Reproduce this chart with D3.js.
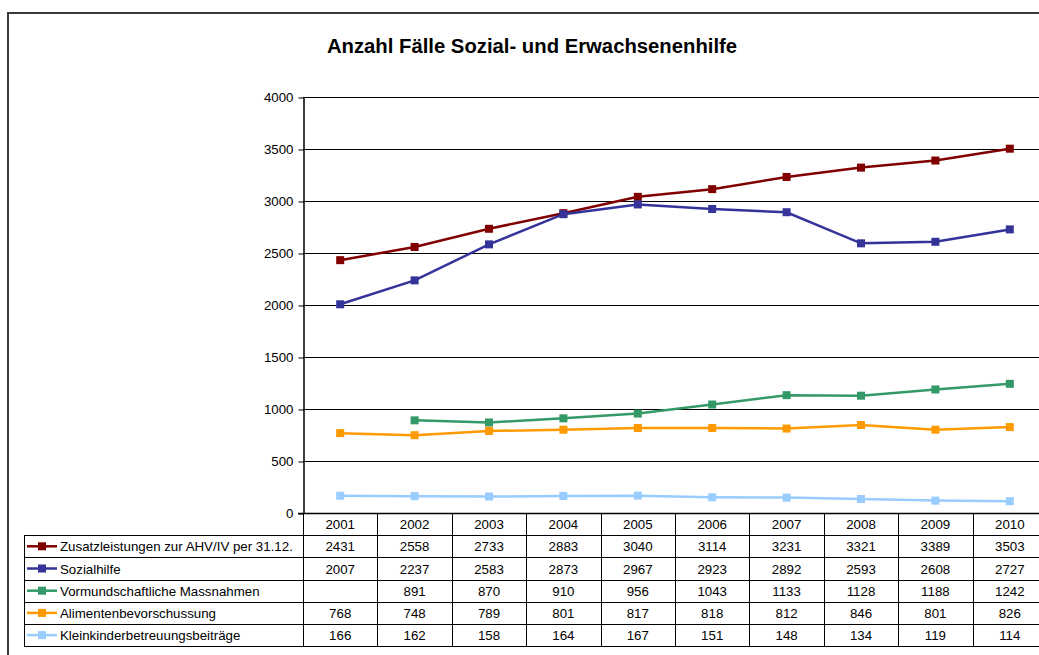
<!DOCTYPE html>
<html><head><meta charset="utf-8">
<script src="https://cdn.jsdelivr.net/npm/d3@7"></script>
<style>body{margin:0;background:#fff;}svg{display:block;font-family:"Liberation Sans",Arial,sans-serif;}</style>
</head><body>
<svg id="c" width="1039" height="655"></svg>
<script>
const years = ["2001","2002","2003","2004","2005","2006","2007","2008","2009","2010"];
const seriesNames = ["Zusatzleistungen zur AHV/IV per 31.12.","Sozialhilfe","Vormundschaftliche Massnahmen","Alimentenbevorschussung","Kleinkinderbetreuungsbeiträge"];
const zusatz = [2431,2558,2733,2883,3040,3114,3231,3321,3389,3503];
const sozialhilfe = [2007,2237,2583,2873,2967,2923,2892,2593,2608,2727];
const vormund = [null,891,870,910,956,1043,1133,1128,1188,1242];
const aliment = [768,748,789,801,817,818,812,846,801,826];
const klein = [166,162,158,164,167,151,148,134,119,114];
const colors = ["#800000","#333399","#339966","#FF9900","#99CCFF"];
const yTicks = [0,500,1000,1500,2000,2500,3000,3500,4000];
const title = "Anzahl Fälle Sozial- und Erwachsenenhilfe";

const seriesData = [zusatz, sozialhilfe, vormund, aliment, klein];
const svg = d3.select("#c");
const L = 303, R = 1047, T = 97, B = 513;
const x = d3.scaleBand().domain(years).range([L, R]);
const y = d3.scaleLinear().domain([0, 4000]).range([B, T]);

// outer frame
svg.append("rect").attr("x", 8).attr("y", 13).attr("width", 1100).attr("height", 700)
  .attr("fill", "none").attr("stroke", "#3a3a3a").attr("stroke-width", 2);

svg.append("text").attr("x", 532).attr("y", 53).attr("text-anchor", "middle")
  .attr("font-size", 20.3).attr("font-weight", "bold").text(title);

// gridlines
svg.append("g").selectAll("line").data(yTicks.filter(d => d > 0)).join("line")
  .attr("x1", L).attr("x2", 1039).attr("y1", d => Math.round(y(d)) + 0.5).attr("y2", d => Math.round(y(d)) + 0.5)
  .attr("stroke", "#000").attr("stroke-width", 1);

// y axis
const yAxis = d3.axisLeft(y).tickValues(yTicks).tickFormat(d3.format("d")).tickSize(5).tickSizeOuter(0).tickPadding(5);
const gy = svg.append("g").attr("transform", `translate(${L + 0.5},0.5)`).call(yAxis);
gy.selectAll("text").attr("font-size", 13.3).attr("font-family", "Liberation Sans, Arial").attr("fill", "#000");
gy.select(".domain").attr("stroke", "#000").attr("stroke-width", 1.5);
gy.selectAll(".tick line").attr("stroke", "#000");

// lines and markers
const line = d3.line().defined(d => d.v != null).x(d => x(d.year) + x.bandwidth() / 2).y(d => y(d.v));
seriesData.forEach((arr, i) => {
  const pts = years.map((yr, j) => ({ year: yr, v: arr[j] }));
  svg.append("path").datum(pts).attr("d", line).attr("fill", "none")
    .attr("stroke", colors[i]).attr("stroke-width", 2.5);
  svg.append("g").selectAll("rect").data(pts.filter(d => d.v != null)).join("rect")
    .attr("x", d => x(d.year) + x.bandwidth() / 2 - 4).attr("y", d => y(d.v) - 4)
    .attr("width", 8).attr("height", 8).attr("fill", colors[i]);
});

// data table
const rowH = 22.2;
const tableTop = B;
const legL = 24;
const tg = svg.append("g");
tg.selectAll("text.hdr").data(years).join("text").attr("class", "hdr")
  .attr("x", d => x(d) + x.bandwidth() / 2).attr("y", tableTop + rowH / 2 + 5)
  .attr("text-anchor", "middle").attr("font-size", 13.3).text(d => d);
for (let r = 0; r <= 6; r++) {
  const yy = Math.round(tableTop + r * rowH) + 0.5;
  tg.append("line").attr("x1", r === 0 ? L - 5 : legL).attr("x2", 1039).attr("y1", yy).attr("y2", yy)
    .attr("stroke", "#000").attr("stroke-width", r === 0 ? 1.5 : 1);
}
const vx = [L].concat(years.map(d => x(d) + x.bandwidth()));
vx.forEach(v => {
  tg.append("line").attr("x1", Math.round(v) + 0.5).attr("x2", Math.round(v) + 0.5)
    .attr("y1", tableTop).attr("y2", Math.round(tableTop + 6 * rowH) + 0.5).attr("stroke", "#000");
});
tg.append("line").attr("x1", legL + 0.5).attr("x2", legL + 0.5)
  .attr("y1", Math.round(tableTop + rowH) + 0.5).attr("y2", Math.round(tableTop + 6 * rowH) + 0.5).attr("stroke", "#000");

seriesNames.forEach((name, i) => {
  const cy = tableTop + (i + 1) * rowH + rowH / 2;
  tg.append("line").attr("x1", legL + 3).attr("x2", legL + 33).attr("y1", cy).attr("y2", cy)
    .attr("stroke", colors[i]).attr("stroke-width", 2.5);
  tg.append("rect").attr("x", legL + 14).attr("y", cy - 4).attr("width", 8).attr("height", 8).attr("fill", colors[i]);
  tg.append("text").attr("x", legL + 36).attr("y", cy + 5).attr("font-size", 13.3).text(name);
  tg.selectAll(null).data(years.map((yr, j) => ({ yr, v: seriesData[i][j] })).filter(d => d.v != null)).join("text")
    .attr("x", d => x(d.yr) + x.bandwidth() / 2).attr("y", cy + 5)
    .attr("text-anchor", "middle").attr("font-size", 13.3).text(d => d.v);
});
</script>
</body></html>
